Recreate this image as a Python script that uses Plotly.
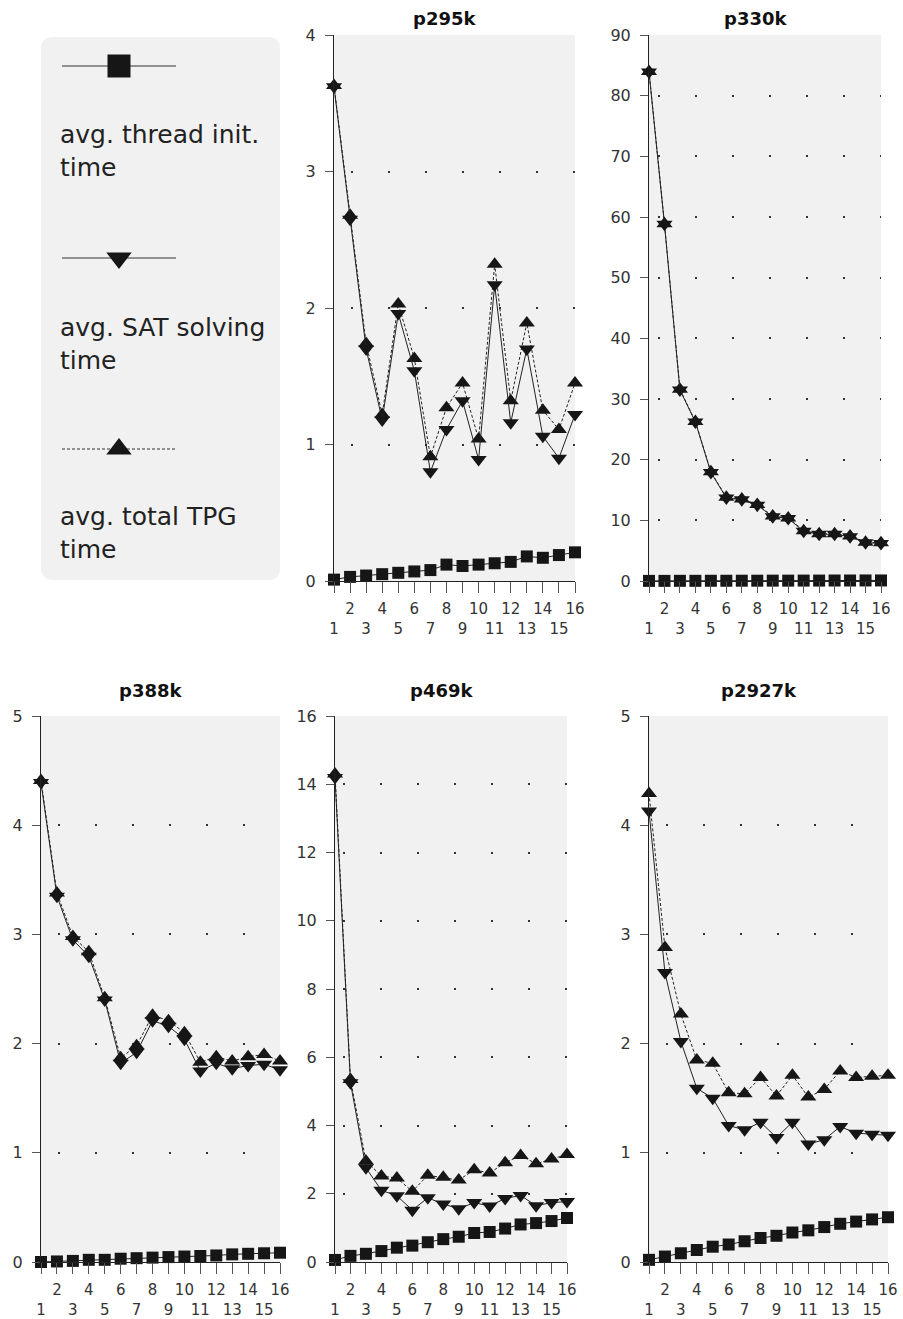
import plotly.graph_objects as go

W, H = 903, 1319

threads = list(range(1, 17))
tick_text = [str(t) if t % 2 == 0 else "<br>" + str(t) for t in threads]

titles = ["p295k", "p330k", "p388k", "p469k", "p2927k"]

p295k_init = [0.01, 0.03, 0.04, 0.05, 0.06, 0.07, 0.08, 0.12, 0.11, 0.12, 0.13, 0.14, 0.18, 0.17, 0.19, 0.21]
p295k_sat = [3.62, 2.65, 1.70, 1.18, 1.96, 1.54, 0.80, 1.11, 1.32, 0.89, 2.17, 1.16, 1.70, 1.06, 0.90, 1.22]
p295k_total = [3.63, 2.68, 1.74, 1.22, 2.03, 1.63, 0.91, 1.27, 1.45, 1.04, 2.32, 1.32, 1.89, 1.25, 1.11, 1.45]

p330k_init = [0.02, 0.02, 0.03, 0.03, 0.04, 0.04, 0.05, 0.05, 0.06, 0.06, 0.07, 0.07, 0.08, 0.08, 0.09, 0.09]
p330k_sat = [83.9, 58.8, 31.5, 26.2, 17.9, 13.7, 13.4, 12.5, 10.6, 10.3, 8.2, 7.7, 7.7, 7.3, 6.3, 6.2]
p330k_total = [84.0, 58.9, 31.6, 26.3, 18.0, 13.8, 13.5, 12.6, 10.7, 10.4, 8.3, 7.8, 7.8, 7.4, 6.4, 6.3]

p388k_init = [0.0, 0.005, 0.01, 0.02, 0.02, 0.03, 0.035, 0.04, 0.045, 0.05, 0.055, 0.06, 0.07, 0.075, 0.08, 0.085]
p388k_sat = [4.39, 3.35, 2.95, 2.80, 2.40, 1.82, 1.92, 2.21, 2.16, 2.04, 1.75, 1.82, 1.77, 1.80, 1.81, 1.76]
p388k_total = [4.41, 3.38, 2.98, 2.84, 2.42, 1.87, 1.98, 2.26, 2.21, 2.10, 1.83, 1.88, 1.84, 1.88, 1.90, 1.84]

p469k_init = [0.06, 0.18, 0.24, 0.32, 0.42, 0.48, 0.58, 0.67, 0.74, 0.85, 0.88, 0.98, 1.10, 1.14, 1.20, 1.29]
p469k_sat = [14.2, 5.25, 2.76, 2.10, 1.94, 1.52, 1.88, 1.70, 1.56, 1.74, 1.64, 1.86, 1.95, 1.65, 1.74, 1.77]
p469k_total = [14.3, 5.35, 2.96, 2.52, 2.46, 2.07, 2.54, 2.48, 2.40, 2.70, 2.61, 2.91, 3.12, 2.88, 3.02, 3.15]

p2927k_init = [0.02, 0.05, 0.08, 0.11, 0.14, 0.16, 0.19, 0.22, 0.24, 0.27, 0.29, 0.32, 0.35, 0.37, 0.39, 0.41]
p2927k_sat = [4.13, 2.65, 2.02, 1.59, 1.50, 1.25, 1.21, 1.28, 1.14, 1.28, 1.08, 1.12, 1.24, 1.18, 1.17, 1.16]
p2927k_total = [4.29, 2.88, 2.27, 1.85, 1.82, 1.55, 1.54, 1.69, 1.52, 1.71, 1.51, 1.58, 1.75, 1.69, 1.70, 1.71]

legend_names = ["avg. thread init.<br>time", "avg. SAT solving<br>time", "avg. total TPG<br>time"]

init_series = [p295k_init, p330k_init, p388k_init, p469k_init, p2927k_init]
sat_series = [p295k_sat, p330k_sat, p388k_sat, p469k_sat, p2927k_sat]
total_series = [p295k_total, p330k_total, p388k_total, p469k_total, p2927k_total]
y_max = [4, 90, 5, 16, 5]
y_dtick = [1, 10, 1, 2, 1]

# layout in pixels: (x at thread 1, x at thread 16, y top, y bottom, grid dot offset)
boxes = [
    (334, 575, 35, 581, 17),
    (649, 881, 35, 581, 9),
    (41, 280, 716, 1262, 17),
    (335, 567, 716, 1262, 8),
    (649, 888, 716, 1262, 17),
]

FONT = "DejaVu Sans"
INK = "#161616"
LINE = "#222222"

fig = go.Figure()
layout = {}
annotations = []

for i in range(5):
    n = i + 1
    xa = "x" if n == 1 else f"x{n}"
    ya = "y" if n == 1 else f"y{n}"
    x0, x1, yt, yb, off = boxes[i]
    fig.add_trace(go.Scatter(
        x=threads, y=total_series[i], mode="lines+markers", xaxis=xa, yaxis=ya,
        line=dict(color=LINE, width=1, dash="3px,2px"),
        marker=dict(symbol="triangle-up", size=14, color=INK, opacity=1),
        cliponaxis=False, showlegend=False))
    fig.add_trace(go.Scatter(
        x=threads, y=sat_series[i], mode="lines+markers", xaxis=xa, yaxis=ya,
        line=dict(color=LINE, width=1),
        marker=dict(symbol="triangle-down", size=14, color=INK, opacity=1),
        cliponaxis=False, showlegend=False))
    fig.add_trace(go.Scatter(
        x=threads, y=init_series[i], mode="lines+markers", xaxis=xa, yaxis=ya,
        line=dict(color=LINE, width=1),
        marker=dict(symbol="square", size=12, color=INK, opacity=1),
        cliponaxis=False, showlegend=False))
    layout[f"xaxis{n}"] = dict(
        domain=[x0 / W, x1 / W], range=[1, 16], anchor=ya, automargin=False,
        tickmode="array", tickvals=threads, ticktext=tick_text, tickangle=0,
        ticks="outside", ticklen=11, tickcolor="#555555", tickwidth=1,
        showline=True, linecolor=LINE, linewidth=1,
        showgrid=False, zeroline=False, ticklabelstandoff=3,
        tickfont=dict(family=FONT, size=15, color="#333333"), fixedrange=True)
    layout[f"yaxis{n}"] = dict(
        domain=[1 - yb / H, 1 - yt / H], range=[0, y_max[i]], dtick=y_dtick[i], anchor=xa,
        automargin=False,
        ticks="outside", ticklen=8, tickcolor="#555555", tickwidth=1,
        showline=True, linecolor=LINE, linewidth=1,
        showgrid=True, gridcolor="#333333", gridwidth=2,
        griddash=f"0px,{off}px,2px,{37 - off - 2}px",
        zeroline=False, ticklabelstandoff=6,
        tickfont=dict(family=FONT, size=16, color="#333333"), fixedrange=True)
    cx = (x0 + x1) / 2 - 10
    ty = 18 if yt < 400 else 690
    annotations.append(dict(
        text=f"<b>{titles[i]}</b>", x=cx / W, y=1 - ty / H, xref="paper", yref="paper",
        xanchor="center", yanchor="middle", showarrow=False,
        font=dict(family=FONT, size=18, color="#111111")))

# legend panel (custom, text below glyph)
lx0, lx1, ly0, ly1, r = 41, 280, 37, 580, 12
def P(x, y):
    return f"{x / W:.6f},{1 - y / H:.6f}"
path = (f"M{P(lx0 + r, ly0)} L{P(lx1 - r, ly0)} Q{P(lx1, ly0)} {P(lx1, ly0 + r)} "
        f"L{P(lx1, ly1 - r)} Q{P(lx1, ly1)} {P(lx1 - r, ly1)} "
        f"L{P(lx0 + r, ly1)} Q{P(lx0, ly1)} {P(lx0, ly1 - r)} "
        f"L{P(lx0, ly0 + r)} Q{P(lx0, ly0)} {P(lx0 + r, ly0)} Z")
shapes = [dict(type="path", path=path, xref="paper", yref="paper",
               fillcolor="#f1f1f1", line=dict(width=0), layer="below")]

# legend glyph axes in pixel units
gx0, gx1, gy0, gy1 = 50, 270, 45, 470
layout["xaxis6"] = dict(domain=[gx0 / W, gx1 / W], range=[gx0, gx1], anchor="y6",
                        visible=False, fixedrange=True, automargin=False)
layout["yaxis6"] = dict(domain=[1 - gy1 / H, 1 - gy0 / H], range=[gy1, gy0], anchor="x6",
                        visible=False, fixedrange=True, automargin=False)
glyph_rows = [66, 258, 449]
glyph_symbols = ["square", "triangle-down", "triangle-up"]
glyph_sizes = [23, 22, 22]
glyph_dash = ["solid", "solid", "3px,2px"]
for k in range(3):
    gy = glyph_rows[k]
    fig.add_trace(go.Scatter(
        x=[62, 176], y=[gy, gy], mode="lines", xaxis="x6", yaxis="y6",
        line=dict(color="#333333", width=1, dash=glyph_dash[k]),
        cliponaxis=False, showlegend=False, hoverinfo="skip"))
    fig.add_trace(go.Scatter(
        x=[119], y=[gy], mode="markers", xaxis="x6", yaxis="y6",
        marker=dict(symbol=glyph_symbols[k], size=glyph_sizes[k], color=INK, opacity=1,
                    line=dict(width=0)),
        cliponaxis=False, showlegend=False, hoverinfo="skip"))
text_centers = [151, 343.6, 533]
for k in range(3):
    annotations.append(dict(
        text=legend_names[k], x=58 / W, y=1 - text_centers[k] / H, xref="paper", yref="paper",
        xanchor="left", yanchor="middle", align="left", showarrow=False,
        font=dict(family=FONT, size=25, color="#222222")))

fig.update_layout(
    width=W, height=H, margin=dict(l=0, r=0, t=0, b=0, autoexpand=False),
    paper_bgcolor="white", plot_bgcolor="#f1f1f1",
    showlegend=False, annotations=annotations, shapes=shapes,
    font=dict(family=FONT), **layout)

fig.write_html("out.html", config={"displayModeBar": False},
               post_script="document.body.style.margin='0';document.body.style.overflow='hidden';")
